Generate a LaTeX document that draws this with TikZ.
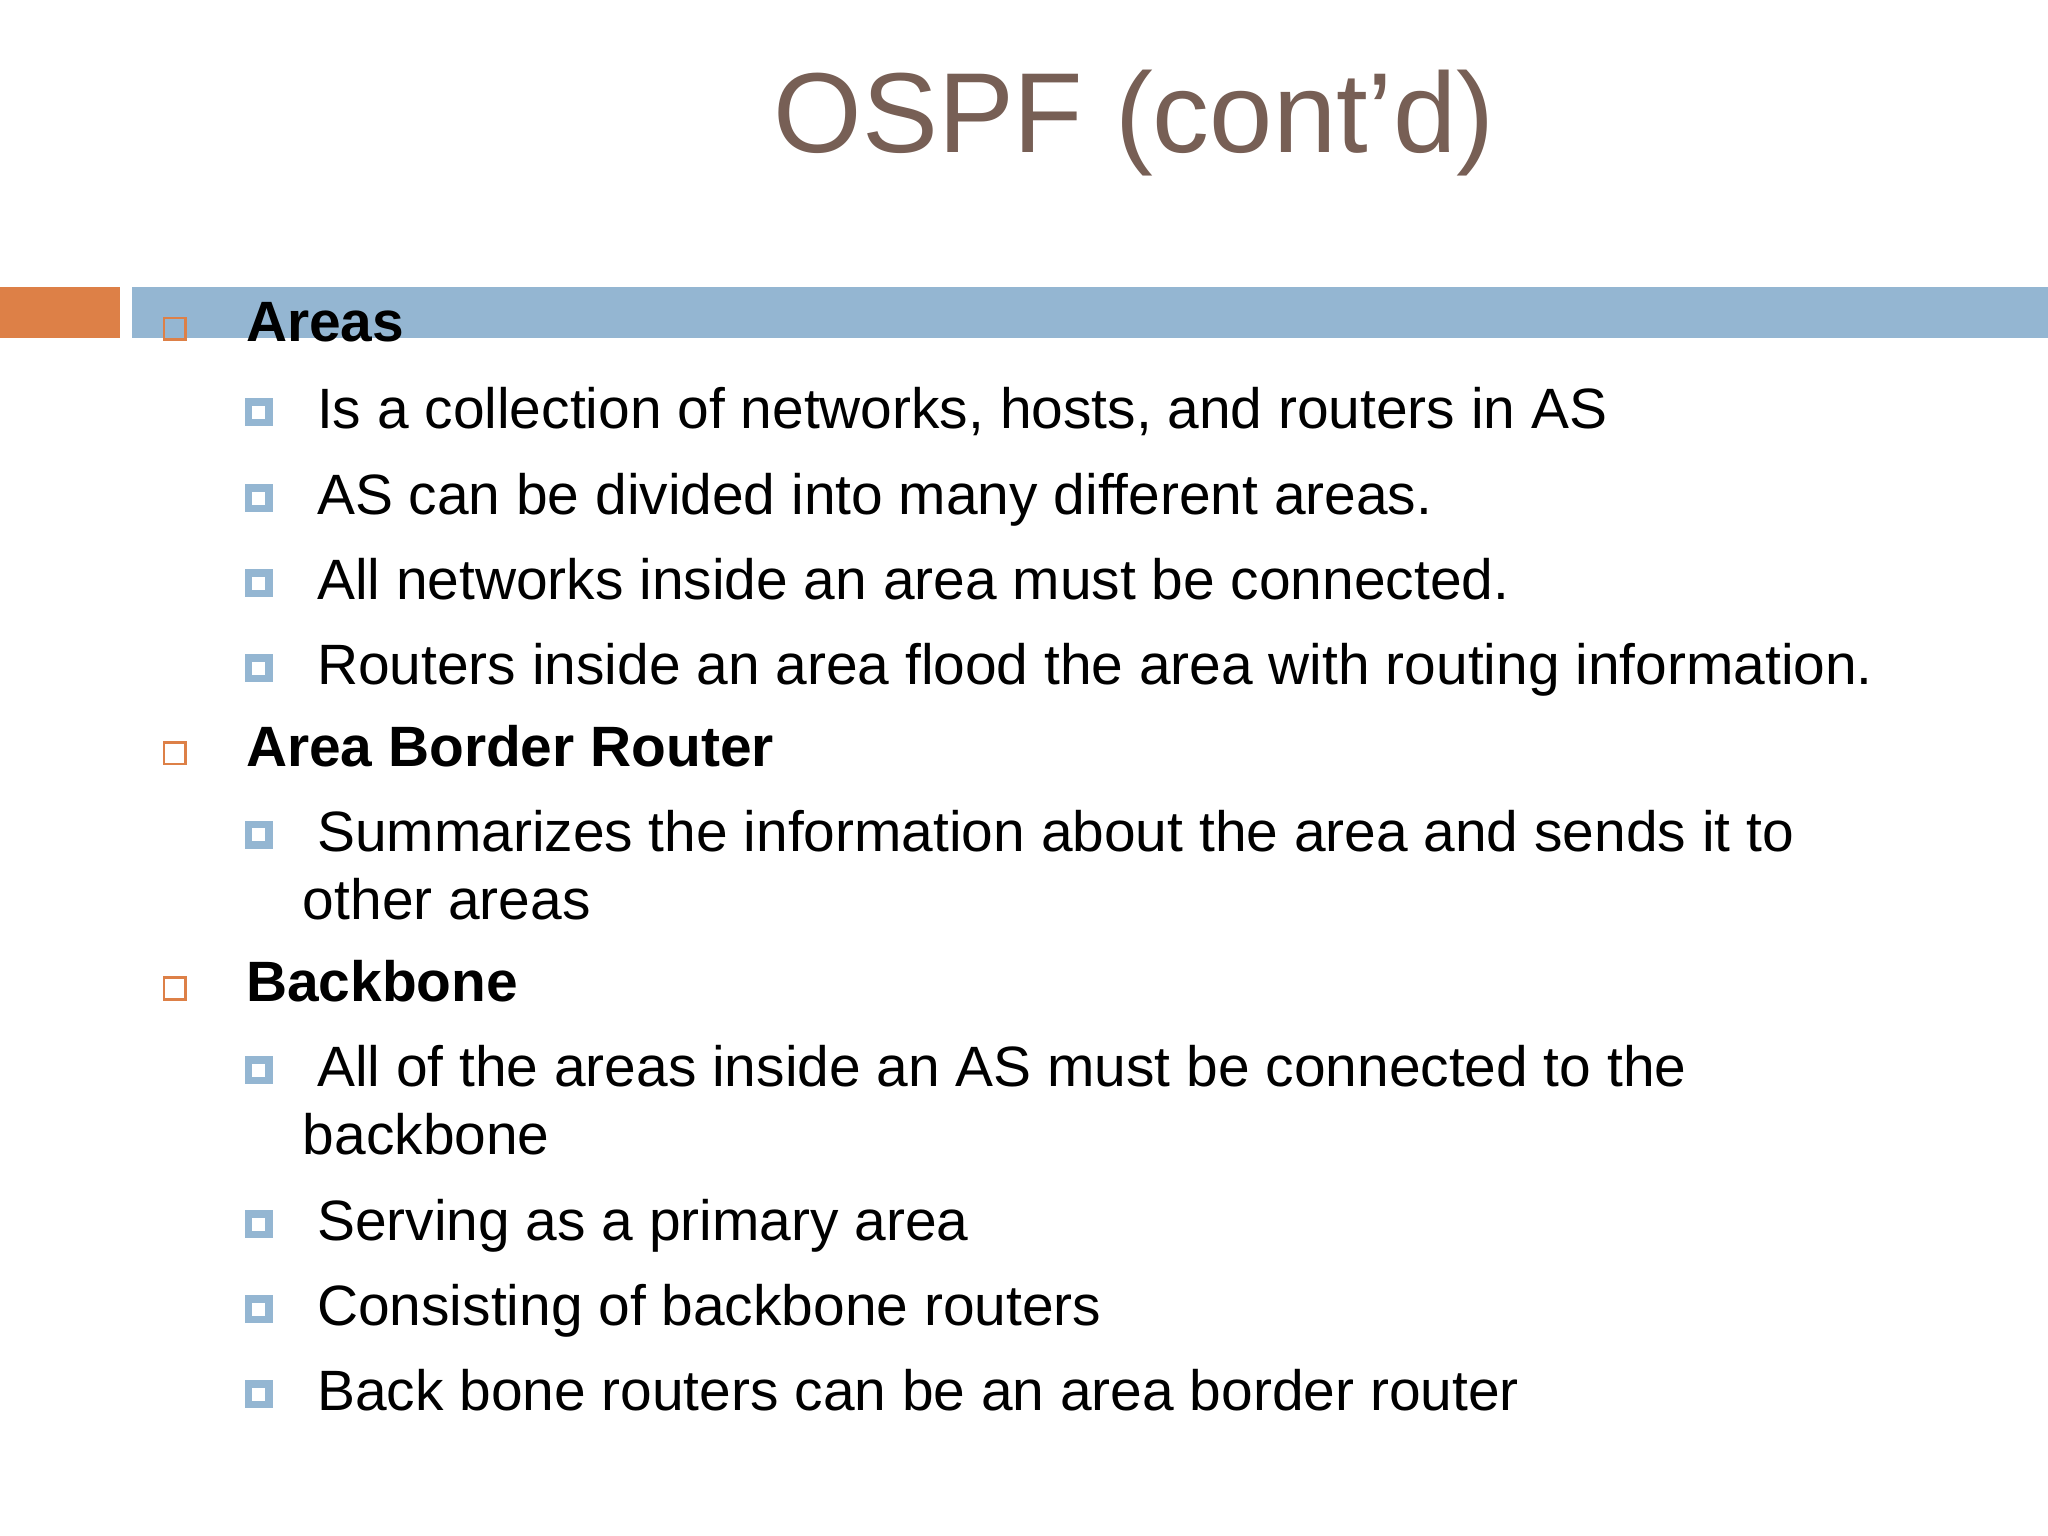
\documentclass[tikz,border=0pt]{standalone}
\usepackage{fontspec}
\setmainfont{Liberation Sans}
\usepackage{xcolor}
\usepackage{tikz}

\definecolor{titlebrown}{HTML}{775F55}
\definecolor{accentblue}{HTML}{94B6D2}
\definecolor{accentorange}{HTML}{DD8047}

\begin{document}
\begin{tikzpicture}[x=1pt, y=-1pt]

\tikzstyle{slidetitle} = [anchor=base west, inner sep=0pt, text=titlebrown, font=\fontsize{40}{48}\selectfont]
\tikzstyle{heading} = [anchor=base west, inner sep=0pt, font=\bfseries\fontsize{20}{24}\selectfont]
\tikzstyle{item} = [anchor=base west, inner sep=0pt, font=\fontsize{20}{24}\selectfont]
\tikzstyle{headmark} = [rectangle, draw=accentorange, line width=0.9pt, minimum size=7.6pt, inner sep=0pt]
\tikzstyle{itemmark} = [rectangle, draw=accentblue, fill=white, line width=2.6pt, minimum size=7.2pt, inner sep=0pt]

\fill[white] (0,0) rectangle (720,540);
\useasboundingbox (0,0) rectangle (720,540);

% bars under the title
\fill[accentorange] (0,100.9) rectangle (42.2,118.8);
\fill[accentblue] (46.4,100.9) rectangle (720,118.8);

\node (title) [slidetitle] at (271.8,53.6) {OSPF (cont’d)};

% Areas
\node (ha) [headmark] at (61.4,115.6) {};
\node (areas) [heading] at (86.3,120.1) {Areas};
\node (ma1) [itemmark] at (91,144.9) {};
\node (a1) [item] at (111.3,150.6) {Is a collection of networks, hosts, and routers in AS};
\node (ma2) [itemmark] at (91,175.1) {};
\node (a2) [item] at (111.3,180.8) {AS can be divided into many different areas.};
\node (ma3) [itemmark] at (91,205.0) {};
\node (a3) [item] at (111.3,210.7) {All networks inside an area must be connected.};
\node (ma4) [itemmark] at (91,234.9) {};
\node (a4) [item] at (111.3,240.6) {Routers inside an area flood the area with routing information.};

% Area Border Router
\node (hr) [headmark] at (61.4,264.8) {};
\node (abr) [heading] at (86.3,269.3) {Area Border Router};
\node (mr1) [itemmark] at (91,293.5) {};
\node (r1) [item] at (111.3,299.2) {Summarizes the information about the area and sends it to};
\node (r1b) [item] at (106.3,323.1) {other areas};

% Backbone
\node (hb) [headmark] at (61.4,347.5) {};
\node (bb) [heading] at (86.3,352.0) {Backbone};
\node (mb1) [itemmark] at (91,376.2) {};
\node (b1) [item] at (111.3,381.9) {All of the areas inside an AS must be connected to the};
\node (b1b) [item] at (106.3,405.8) {backbone};
\node (mb2) [itemmark] at (91,430.4) {};
\node (b2) [item] at (111.3,436.1) {Serving as a primary area};
\node (mb3) [itemmark] at (91,460.3) {};
\node (b3) [item] at (111.3,466.0) {Consisting of backbone routers};
\node (mb4) [itemmark] at (91,490.2) {};
\node (b4) [item] at (111.3,495.9) {Back bone routers can be an area border router};

\end{tikzpicture}
\end{document}
